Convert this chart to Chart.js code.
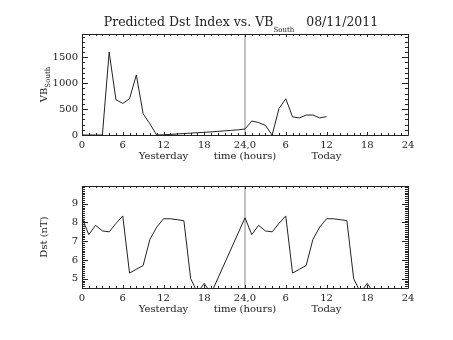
<!DOCTYPE html>
<html>
<head>
<meta charset="utf-8">
<script src="https://cdn.jsdelivr.net/npm/chart.js@4.4.0/dist/chart.umd.min.js"></script>
<style>
    html, body { margin: 0; padding: 0; background: #fff; }
    #wrap { position: relative; width: 453px; height: 340px; }
    #wrap canvas { position: absolute; left: 0; }
    #vbChart { top: 0; }
    #dstChart { top: 170px; }
</style>
</head>
<body>
<div id="wrap">
    <canvas id="vbChart" width="453" height="170"></canvas>
    <canvas id="dstChart" width="453" height="170"></canvas>
</div>
<script>
// Hours since midnight yesterday (0-24 yesterday, 24-48 today)
const vbHours = [0, 1, 2, 3, 4, 5, 6, 7, 8, 9, 10, 11, 12, 13, 14, 15, 16, 17, 18,
                 19, 20, 21, 22, 23, 24, 25, 26, 27, 28, 29, 30, 31, 32, 33, 34, 35, 36];
const vbSouth = [0, 0, 0, 0, 1600, 680, 610, 700, 1160, 410, 215, 0, 5, 12, 20, 28, 36, 45, 52,
                 60, 70, 80, 90, 100, 115, 270, 240, 185, 0, 510, 700, 350, 330, 385, 385, 330, 355];

const dstHours = [0, 1, 2, 3, 4, 5, 6, 7, 8, 9, 10, 11, 12, 13, 14, 15, 16, 17, 18, 19,
                  24, 25, 26, 27, 28, 29, 30, 31, 32, 33, 34, 35, 36, 37, 38, 39, 40, 41, 42, 43];
const dstValues = [8.25, 7.35, 7.85, 7.55, 7.5, 7.95, 8.35, 5.3, 5.5, 5.7, 7.1, 7.75, 8.2, 8.2, 8.15, 8.1, 5.0, 4.25, 4.75, 4.2,
                   8.25, 7.35, 7.85, 7.55, 7.5, 7.95, 8.35, 5.3, 5.5, 5.7, 7.1, 7.75, 8.2, 8.2, 8.15, 8.1, 5.0, 4.25, 4.75, 4.2];

// Tick values
const hourTicks = [0, 6, 12, 18, 24, 30, 36, 42, 48];
const vbTicks = [0, 500, 1000, 1500];
const dstTicks = [5, 6, 7, 8, 9];

const dayBoundary = 24;
const dayLabels = ['Yesterday', 'time (hours)', 'Today'];
const dayLabelHours = [12, 24, 36];

const FONT = 'DejaVu Serif';
const INK = '#222';

function toPoints(xs, ys) {
    return xs.map((x, i) => ({ x: x, y: ys[i] }));
}

function fixedTicks(values) {
    return function(scale) {
        scale.ticks = values.map(v => ({ value: v }));
    };
}

// Hour ticks: 0..24 then 0..24 again, with the midnight tick written as "24,0"
function hourLabel(v) {
    if (v === 24) return '24,0';
    return String(v > 24 ? v - 24 : v);
}

// Box frame with inward major/minor tick marks on all four sides
const boxTicks = {
    id: 'boxTicks',
    afterDatasetsDraw(chart, args, opts) {
        const { ctx, chartArea: a, scales } = chart;
        const xs = scales.x, ys = scales.y;
        ctx.save();
        ctx.strokeStyle = INK;
        ctx.lineWidth = 1;
        ctx.beginPath();

        const xMajors = xs.ticks.map(t => t.value);
        let k0 = Math.ceil(xs.min / opts.xStep), k1 = Math.floor(xs.max / opts.xStep);
        for (let k = k0; k <= k1; k++) {
            const v = k * opts.xStep;
            const major = xMajors.some(m => Math.abs(m - v) < 1e-6);
            const len = major ? opts.xMajorLen : opts.xMinorLen;
            const px = Math.round(xs.getPixelForValue(v)) + 0.5;
            ctx.moveTo(px, a.bottom); ctx.lineTo(px, a.bottom - len);
            ctx.moveTo(px, a.top); ctx.lineTo(px, a.top + len);
        }

        const yMajors = ys.ticks.map(t => t.value);
        k0 = Math.ceil(ys.min / opts.yStep - 1e-6);
        k1 = Math.floor(ys.max / opts.yStep + 1e-6);
        for (let k = k0; k <= k1; k++) {
            const v = k * opts.yStep;
            const major = yMajors.some(m => Math.abs(m - v) < 1e-6);
            const len = major ? opts.yMajorLen : opts.yMinorLen;
            const py = Math.round(ys.getPixelForValue(v)) + 0.5;
            ctx.moveTo(a.left, py); ctx.lineTo(a.left + len, py);
            ctx.moveTo(a.right, py); ctx.lineTo(a.right - len, py);
        }

        ctx.rect(Math.round(a.left) + 0.5, Math.round(a.top) + 0.5,
                 Math.round(a.width), Math.round(a.height));
        ctx.stroke();
        ctx.restore();
    }
};

// Second row under the hour ticks and the rotated y-axis title
const axisText = {
    id: 'axisText',
    afterDraw(chart, args, opts) {
        const { ctx, chartArea: a, scales } = chart;
        ctx.save();
        ctx.fillStyle = INK;
        ctx.font = '10px "' + FONT + '"';
        ctx.textAlign = 'center';
        ctx.textBaseline = 'middle';
        dayLabels.forEach((txt, i) => {
            ctx.fillText(txt, scales.x.getPixelForValue(dayLabelHours[i]), a.bottom + 21);
        });

        // y title, reading bottom to top
        ctx.translate(opts.titleX, (a.top + a.bottom) / 2);
        ctx.rotate(-Math.PI / 2);
        ctx.font = '10px "' + FONT + '"';
        const w1 = ctx.measureText(opts.yTitle).width;
        ctx.font = '7px "' + FONT + '"';
        const w2 = opts.ySub ? ctx.measureText(opts.ySub).width : 0;
        const start = -(w1 + w2) / 2;
        ctx.textAlign = 'left';
        ctx.textBaseline = 'alphabetic';
        ctx.font = '10px "' + FONT + '"';
        ctx.fillText(opts.yTitle, start, 4);
        if (opts.ySub) {
            ctx.font = '7px "' + FONT + '"';
            ctx.fillText(opts.ySub, start + w1, 7);
        }
        ctx.restore();
    }
};

// Title line above the upper plot
const titleLine = {
    id: 'titleLine',
    afterDraw(chart, args, opts) {
        if (!opts.show) return;
        const { ctx } = chart;
        const main = 'Predicted Dst Index vs. VB';
        const sub = 'South';
        const date = '   08/11/2011';
        ctx.save();
        ctx.fillStyle = INK;
        ctx.textBaseline = 'alphabetic';
        ctx.textAlign = 'left';
        ctx.font = '12.5px "' + FONT + '"';
        const w1 = ctx.measureText(main).width;
        const w3 = ctx.measureText(date).width;
        ctx.font = '7px "' + FONT + '"';
        const w2 = ctx.measureText(sub).width;
        let x = 241 - (w1 + w2 + w3) / 2;
        ctx.font = '12.5px "' + FONT + '"';
        ctx.fillText(main, x, 26);
        ctx.font = '7px "' + FONT + '"';
        ctx.fillText(sub, x + w1, 32);
        ctx.font = '12.5px "' + FONT + '"';
        ctx.fillText(date, x + w1 + w2, 26);
        ctx.restore();
    }
};

function panelConfig(points, yMin, yMax, yTicks, yMinor, padTop, extra) {
    return {
        type: 'line',
        data: {
            datasets: [
                {
                    data: points,
                    borderColor: INK,
                    borderWidth: 1,
                    pointRadius: 0,
                    tension: 0,
                    fill: false
                },
                {
                    // midnight between yesterday and today
                    data: [{ x: dayBoundary, y: yMin }, { x: dayBoundary, y: yMax }],
                    borderColor: '#888',
                    borderWidth: 1,
                    pointRadius: 0,
                    fill: false
                }
            ]
        },
        options: {
            responsive: false,
            animation: false,
            events: [],
            layout: { padding: { top: padTop, right: 45, left: 0, bottom: 0 } },
            plugins: {
                legend: { display: false },
                tooltip: { enabled: false },
                boxTicks: { xStep: 1, xMajorLen: 3, xMinorLen: 2, yStep: yMinor, yMajorLen: 6, yMinorLen: 3 },
                axisText: extra.axisText,
                titleLine: { show: extra.title }
            },
            scales: {
                x: {
                    type: 'linear',
                    min: 0,
                    max: 48,
                    grid: { display: false, drawTicks: false },
                    border: { display: false },
                    afterBuildTicks: fixedTicks(hourTicks),
                    ticks: {
                        autoSkip: false,
                        maxRotation: 0,
                        minRotation: 0,
                        padding: 4,
                        color: INK,
                        font: { family: FONT, size: 10 },
                        callback: hourLabel
                    },
                    afterFit(scale) { scale.height = extra.xHeight; }
                },
                y: {
                    type: 'linear',
                    min: yMin,
                    max: yMax,
                    grid: { display: false, drawTicks: false },
                    border: { display: false },
                    afterBuildTicks: fixedTicks(yTicks),
                    ticks: {
                        autoSkip: false,
                        padding: 4,
                        color: INK,
                        font: { family: FONT, size: 10 },
                        callback: v => String(v)
                    },
                    afterFit(scale) { scale.width = 82; }
                }
            }
        },
        plugins: [boxTicks, axisText, titleLine]
    };
}

new Chart(document.getElementById('vbChart'),
    panelConfig(toPoints(vbHours, vbSouth), 0, 1950, vbTicks, 100, 34, {
        xHeight: 35,
        title: true,
        axisText: { titleX: 43, yTitle: 'VB', ySub: 'South' }
    }));

new Chart(document.getElementById('dstChart'),
    panelConfig(toPoints(dstHours, dstValues), 4.5, 9.95, dstTicks, 0.1, 16, {
        xHeight: 52,
        title: false,
        axisText: { titleX: 43, yTitle: 'Dst (nT)', ySub: '' }
    }));
</script>
</body>
</html>
